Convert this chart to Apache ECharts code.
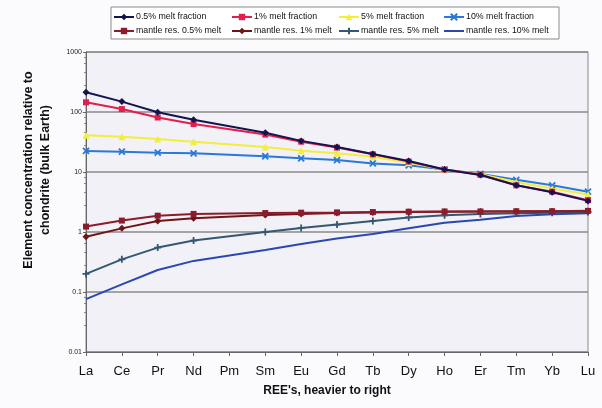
<!DOCTYPE html>
<html><head><meta charset="utf-8">
<script src="https://cdn.jsdelivr.net/npm/echarts@6/dist/echarts.min.js"></script>
<style>html,body{margin:0;padding:0;background:#fbfbfd;}#c{width:602px;height:408px;}</style>
</head><body><div id="c"></div>
<script>
const categories = ['La','Ce','Pr','Nd','Pm','Sm','Eu','Gd','Tb','Dy','Ho','Er','Tm','Yb','Lu'];
const melt05 = [213,149,99,74,null,45,33,26,20,15.3,11,8.9,6.0,4.6,3.3];
const melt1 = [145,112,81,63,null,42,32,25.5,19.7,14.9,11,9.0,6.0,4.7,3.4];
const melt5 = [41,38.8,35.5,32,null,26,22.6,20.5,18,14.3,11,9.2,6.8,5.3,4.2];
const melt10 = [22.4,21.8,21,20.5,null,18.3,16.9,15.8,13.9,12.9,11,9.3,7.4,6.0,4.7];
const mantle05 = [1.23,1.55,1.87,2.0,null,2.07,2.1,2.12,2.15,2.18,2.2,2.2,2.22,2.22,2.25];
const mantle1 = [0.835,1.15,1.52,1.69,null,1.92,2.0,2.08,2.12,2.15,2.18,2.2,2.2,2.22,2.22];
const mantle5 = [0.2,0.35,0.55,0.72,null,1.0,1.17,1.33,1.53,1.75,1.9,2.0,2.05,2.1,2.15];
const mantle10 = [0.076,0.134,0.233,0.33,null,0.5,0.63,0.78,0.93,1.15,1.42,1.6,1.85,1.97,2.05];
const yTicks = ['0.01','0.1','1','10','100','1000'];
const names = ['0.5% melt fraction','1% melt fraction','5% melt fraction','10% melt fraction',
  'mantle res. 0.5% melt','mantle res. 1% melt','mantle res. 5% melt','mantle res. 10% melt'];

const X_PATH = 'path://M0,0L10,10M10,0L0,10';
const PLUS_PATH = 'path://M5,0L5,10M0,5L10,5';
const defs = [
  {d: melt05, c:'#141450', s:'diamond', size:7},
  {d: melt1, c:'#e41e4c', s:'rect', size:6},
  {d: melt5, c:'#f2ee3a', s:'triangle', size:7},
  {d: melt10, c:'#2a78d8', s:X_PATH, size:6, stroke:true},
  {d: mantle05, c:'#8c1c2c', s:'rect', size:6},
  {d: mantle1, c:'#6e1616', s:'diamond', size:7},
  {d: mantle5, c:'#355872', s:PLUS_PATH, size:7, stroke:true},
  {d: mantle10, c:'#2a48b0', s:'none', size:0}
];
const series = defs.map((o,i)=>({
  name: names[i], type:'line', data:o.d, connectNulls:true,
  symbol:o.s, symbolSize:o.size, showSymbol: o.s!=='none',
  lineStyle:{color:o.c, width:2},
  itemStyle: o.stroke ? {color:o.c, borderColor:o.c, borderWidth:1.8} : {color:o.c},
  z: 10 - i,
  emphasis:{disabled:true}
}));

function legendItem(n){
  if (n === names[7]) return {name:n, itemStyle:{opacity:0}};
  return {name:n};
}
const legendCols = [113,231,338,443].map((left,k)=>({
  orient:'vertical', left:left, top:12, padding:0, itemGap:4, itemWidth:20, itemHeight:8,
  data:[legendItem(names[k]), legendItem(names[k+4])], z:5, selectedMode:false,
  textStyle:{fontSize:8.8, lineHeight:10, color:'#111', fontFamily:'Arial', padding:[0,0,0,-3]}
}));

const chart = echarts.init(document.getElementById('c'), null, {renderer:'canvas'});
chart.setOption({
  animation:false,
  backgroundColor:'#fbfbfd',
  legend: legendCols,
  grid:{left:86, right:14, top:52, bottom:56, show:true, backgroundColor:'#f1f1f7', borderColor:'#8a8a8a', borderWidth:1},
  xAxis:{type:'category', data:categories, boundaryGap:false,
    axisLine:{lineStyle:{color:'#666', width:1}},
    axisTick:{show:true, length:4, lineStyle:{color:'#666'}},
    axisLabel:{fontSize:13, color:'#111', margin:13, fontFamily:'Arial', interval:0}
  },
  yAxis:{type:'log', logBase:10, min:0.01, max:1000,
    axisLine:{show:true, lineStyle:{color:'#666', width:1}},
    axisTick:{show:true, length:3, lineStyle:{color:'#666'}},
    minorTick:{show:true, splitNumber:5, length:2, lineStyle:{color:'#888'}},
    splitLine:{show:true, lineStyle:{color:'#8a8a8a', width:1.5}},
    axisLabel:{fontSize:7, color:'#222', margin:4, fontFamily:'Arial',
      formatter:(v)=>{const e=Math.round(Math.log10(v)); return yTicks[e+2];}}
  },
  graphic:[
    {type:'rect', shape:{x:111, y:7, width:448, height:32}, style:{fill:'#fff', stroke:'#8a8a8a', lineWidth:1}, z:1},
    {type:'text', x:29, y:170, rotation:Math.PI/2, style:{text:'Element concentration relative to', font:'bold 12.5px Arial', fill:'#111', textAlign:'center', textVerticalAlign:'middle'}},
    {type:'text', x:46, y:170, rotation:Math.PI/2, style:{text:'chondrite (bulk Earth)', font:'bold 12.5px Arial', fill:'#111', textAlign:'center', textVerticalAlign:'middle'}},
    {type:'text', x:327, y:391, style:{text:"REE's, heavier to right", font:'bold 12px Arial', fill:'#111', textAlign:'center', textVerticalAlign:'middle'}}
  ],
  series: series
});
</script></body></html>
